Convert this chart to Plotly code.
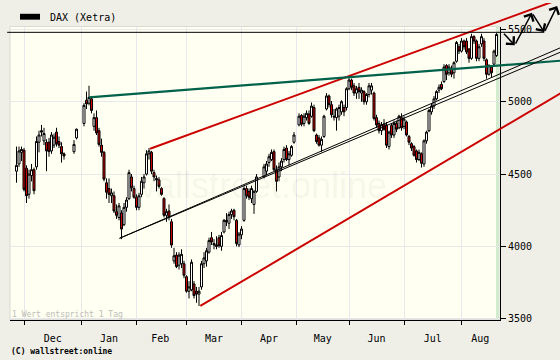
import plotly.graph_objects as go

# ---------------- data ----------------
trading_days = {
    "2008-11": [26, 27, 28],
    "2008-12": [1, 2, 3, 4, 5, 8, 9, 10, 11, 12, 15, 16, 17, 18, 19, 22, 23, 29, 30],
    "2009-01": [2, 5, 6, 7, 8, 9, 12, 13, 14, 15, 16, 19, 20, 21, 22, 23, 26, 27, 28, 29, 30],
    "2009-02": [2, 3, 4, 5, 6, 9, 10, 11, 12, 13, 16, 17, 18, 19, 20, 23, 24, 25, 26, 27],
    "2009-03": [2, 3, 4, 5, 6, 9, 10, 11, 12, 13, 16, 17, 18, 19, 20, 23, 24, 25, 26, 27, 30, 31],
    "2009-04": [1, 2, 3, 6, 7, 8, 9, 14, 15, 16, 17, 20, 21, 22, 23, 24, 27, 28, 29, 30],
    "2009-05": [4, 5, 6, 7, 8, 11, 12, 13, 14, 15, 18, 19, 20, 21, 22, 25, 26, 27, 28, 29],
    "2009-06": [1, 2, 3, 4, 5, 8, 9, 10, 11, 12, 15, 16, 17, 18, 19, 22, 23, 24, 25, 26, 29, 30],
    "2009-07": [1, 2, 3, 6, 7, 8, 9, 10, 13, 14, 15, 16, 17, 20, 21, 22, 23, 24, 27, 28, 29, 30, 31],
    "2009-08": [3, 4, 5, 6, 7, 10, 11, 12, 13, 14, 17, 18, 19, 20, 21],
}
dates = [f"{ym}-{d:02d}" for ym, days in trading_days.items() for d in days]

opens = [
    4520, 4570, 4650,
    4665, 4540, 4360, 4490, 4530, 4550, 4720, 4800, 4730, 4720, 4720, 4660, 4700, 4790, 4725, 4690, 4640, 4655, 4750,
    4850, 5010, 4990, 5020, 4830, 4890, 4800, 4700, 4650, 4440, 4400, 4350, 4350, 4240, 4200, 4230, 4150, 4270, 4330, 4480, 4400,
    4340, 4270, 4360, 4440, 4500, 4640, 4650, 4510, 4470, 4460, 4400, 4330, 4215, 4245, 4170, 3900, 3940, 3870, 3880, 3880,
    3790, 3690, 3700, 3740, 3690, 3670, 3720, 3880, 3900, 3960, 4060, 4020, 4010, 4060, 4000, 4100, 4180, 4160, 4220, 4250, 4180, 4010,
    4080, 4180, 4400, 4380, 4330, 4290, 4380, 4480, 4520, 4580, 4600, 4655, 4530, 4480, 4550, 4600, 4680, 4600, 4630, 4720,
    4840, 4905, 4850, 4890, 4915, 4900, 4960, 4770, 4750, 4700, 4760, 4950, 5040, 4980, 4900, 4890, 4900, 4930, 4960, 4960,
    5090, 5150, 5110, 5060, 5100, 5060, 5070, 5000, 5050, 5080, 5060, 4890, 4850, 4800, 4845, 4840, 4690, 4835, 4770, 4850, 4820, 4890,
    4830, 4860, 4760, 4710, 4690, 4660, 4600, 4640, 4570, 4730, 4800, 4930, 4970, 5020, 5080, 5120, 5140, 5250, 5200, 5230, 5200, 5280, 5380,
    5350, 5420, 5420, 5365, 5300, 5450, 5420, 5300, 5400, 5420, 5290, 5190, 5240, 5260, 5320,
]
highs = [
    4690, 4690, 4690,
    4680, 4560, 4530, 4570, 4545, 4760, 4800, 4840, 4820, 4740, 4750, 4790, 4780, 4820, 4760, 4720, 4650, 4735, 4815,
    4990, 5070, 5111, 5040, 4920, 4940, 4820, 4745, 4660, 4470, 4470, 4400, 4380, 4290, 4300, 4250, 4300, 4340, 4530, 4500, 4420,
    4360, 4370, 4480, 4500, 4665, 4680, 4660, 4530, 4490, 4480, 4410, 4340, 4260, 4290, 4190, 3990, 3960, 3960, 3980, 3900,
    3800, 3760, 3910, 3760, 3720, 3720, 3900, 3960, 3990, 4060, 4100, 4050, 4070, 4080, 4100, 4190, 4230, 4240, 4260, 4260, 4190, 4100,
    4140, 4420, 4420, 4400, 4420, 4390, 4500, 4570, 4590, 4640, 4670, 4670, 4560, 4580, 4610, 4690, 4700, 4660, 4700, 4790,
    4920, 4915, 4920, 4940, 4940, 4995, 4980, 4780, 4770, 4760, 4910, 5060, 5050, 5005, 4950, 4960, 4980, 5010, 4980, 5100,
    5175, 5160, 5130, 5110, 5130, 5100, 5080, 5060, 5130, 5130, 5070, 4910, 4870, 4860, 4880, 4860, 4800, 4850, 4870, 4870, 4910, 4920,
    4900, 4870, 4770, 4720, 4700, 4670, 4670, 4650, 4740, 4800, 4950, 4990, 5040, 5080, 5120, 5140, 5260, 5260, 5260, 5250, 5280, 5420, 5400,
    5440, 5430, 5440, 5370, 5470, 5460, 5430, 5400, 5470, 5440, 5300, 5260, 5250, 5360, 5475,
]
lows = [
    4440, 4550, 4590,
    4380, 4300, 4330, 4450, 4360, 4530, 4650, 4760, 4700, 4520, 4620, 4640, 4680, 4690, 4680, 4580, 4600, 4640, 4740,
    4830, 4950, 4975, 4920, 4800, 4770, 4690, 4620, 4450, 4330, 4300, 4300, 4230, 4190, 4180, 4050, 4140, 4240, 4320, 4380, 4330,
    4250, 4250, 4340, 4400, 4490, 4600, 4500, 4450, 4380, 4400, 4350, 4200, 4170, 4180, 3990, 3880, 3850, 3840, 3850, 3780,
    3680, 3640, 3690, 3640, 3610, 3588, 3700, 3850, 3860, 3950, 4010, 3980, 3980, 3990, 3970, 4090, 4140, 4120, 4190, 4180, 4000, 3995,
    4050, 4170, 4330, 4320, 4300, 4225, 4370, 4470, 4490, 4550, 4590, 4520, 4380, 4450, 4520, 4580, 4590, 4560, 4620, 4710,
    4830, 4830, 4830, 4870, 4840, 4890, 4790, 4710, 4690, 4655, 4750, 4940, 4960, 4890, 4870, 4800, 4870, 4910, 4900, 4940,
    5080, 5080, 5040, 5020, 5020, 5000, 4980, 4980, 5030, 5050, 4870, 4820, 4780, 4770, 4800, 4680, 4670, 4750, 4750, 4790, 4810, 4800,
    4810, 4760, 4700, 4660, 4620, 4580, 4590, 4545, 4550, 4710, 4790, 4910, 4950, 5010, 5060, 5080, 5130, 5150, 5180, 5170, 5160, 5270, 5330,
    5340, 5360, 5330, 5270, 5290, 5400, 5280, 5280, 5380, 5280, 5160, 5180, 5170, 5250, 5310,
]
closes = [
    4560, 4660, 4670,
    4394, 4350, 4500, 4530, 4385, 4725, 4770, 4790, 4780, 4660, 4655, 4770, 4755, 4710, 4700, 4640, 4625, 4705, 4810,
    4975, 4985, 5030, 4940, 4890, 4785, 4705, 4650, 4465, 4375, 4360, 4370, 4245, 4215, 4280, 4120, 4270, 4320, 4510, 4405, 4340,
    4270, 4350, 4450, 4480, 4640, 4660, 4520, 4480, 4460, 4415, 4360, 4215, 4240, 4200, 4010, 3935, 3860, 3940, 3945, 3800,
    3690, 3720, 3890, 3660, 3670, 3690, 3880, 3920, 3970, 4040, 4030, 4010, 4000, 4005, 4075, 4180, 4170, 4220, 4245, 4205, 4020, 4085,
    4120, 4400, 4350, 4340, 4400, 4380, 4480, 4550, 4570, 4620, 4650, 4530, 4450, 4550, 4590, 4670, 4600, 4640, 4690, 4770,
    4900, 4845, 4900, 4920, 4850, 4970, 4800, 4725, 4700, 4740, 4900, 5040, 4980, 4910, 4895, 4950, 4960, 5000, 4930, 5090,
    5150, 5100, 5060, 5090, 5070, 5080, 5000, 5050, 5110, 5110, 4885, 4840, 4800, 4840, 4810, 4700, 4790, 4770, 4850, 4810, 4900, 4820,
    4880, 4770, 4720, 4680, 4630, 4600, 4650, 4575, 4730, 4790, 4940, 4970, 5020, 5070, 5100, 5090, 5240, 5190, 5240, 5190, 5270, 5410, 5350,
    5420, 5380, 5345, 5300, 5450, 5420, 5300, 5380, 5450, 5300, 5190, 5250, 5200, 5350, 5465,
]

month_tick_dates = ["2008-12-01", "2009-01-01", "2009-02-02", "2009-03-02", "2009-04-01",
                    "2009-05-01", "2009-06-01", "2009-07-01", "2009-08-03"]
month_label_dates = ["2008-12-16 12:00", "2009-01-16", "2009-02-13 12:00", "2009-03-17", "2009-04-16",
                     "2009-05-15 12:00", "2009-06-16", "2009-07-16 12:00", "2009-08-12 12:00"]
month_names = ["Dec", "Jan", "Feb", "Mar", "Apr", "May", "Jun", "Jul", "Aug"]
price_ticks = [3500, 4000, 4500, 5000, 5500]
price_tick_text = ["3500", "4000", "4500", "5000", "5500"]

# drawn trend lines: (dates, values)
green_dates, green_values = ["2009-01-06", "2009-09-28"], [5030, 5286]
red_up_dates, red_up_values = ["2009-02-09", "2009-09-28"], [4675, 5722]
red_low_dates, red_low_values = ["2009-03-09", "2009-09-28"], [3588, 5075]
black_a_dates, black_a_values = ["2009-01-23", "2009-09-28"], [4056, 5386]
black_b_dates, black_b_values = ["2009-01-23", "2009-09-28"], [4056, 5355]
resist_dates, resist_values = ["2008-11-21 09:36", "2009-09-16 14:24"], [5480, 5480]
forecast_dates = ["2009-08-24 09:36", "2009-08-31 04:48", "2009-09-09 19:12",
                  "2009-09-16 14:24", "2009-09-23 19:12"]
forecast_values = [5480, 5391, 5615, 5480, 5662]
today_band = ["2009-08-20 19:00", "2009-08-22"]

# ---------------- layout geometry ----------------
W, H = 560, 360
PL, PR, PT, PB = 10, 500, 24, 323          # plot box in pixels
X_RANGE = ["2008-11-21 09:36", "2009-08-24 09:36"]
X2_RANGE = ["2008-11-17 09:36", "2009-09-25 09:36"]   # same scale, full figure width
Y_RANGE = [3493, 5520]
upp = (Y_RANGE[1] - Y_RANGE[0]) / (PB - PT)   # value units per pixel
Y2_RANGE = [Y_RANGE[0] - (H - PB) * upp, Y_RANGE[1] + PT * upp]

BREAKS = [dict(bounds=["sat", "mon"])]
GRID = "#e7e7ec"
MONO = "DejaVu Sans Mono"


def px(x):
    return x / W


def py(y):
    return 1 - y / H


fig = go.Figure()
fig.add_trace(go.Candlestick(
    x=dates, open=opens, high=highs, low=lows, close=closes,
    increasing=dict(fillcolor="#ffffff", line=dict(color="#000000", width=1)),
    decreasing=dict(fillcolor="#cc0000", line=dict(color="#000000", width=1)),
    whiskerwidth=0, showlegend=False, hoverinfo="skip", xaxis="x", yaxis="y",
))

for d, v, col, w in [
    (red_up_dates, red_up_values, "#cc0000", 2),
    (red_low_dates, red_low_values, "#cc0000", 2),
    (green_dates, green_values, "#00624a", 2.2),
    (black_a_dates, black_a_values, "#000000", 1),
    (black_b_dates, black_b_values, "#000000", 1),
    (resist_dates, resist_values, "#000000", 1),
]:
    fig.add_trace(go.Scatter(x=d, y=v, mode="lines", line=dict(color=col, width=w),
                             xaxis="x2", yaxis="y2", showlegend=False, hoverinfo="skip"))

shapes = [
    dict(type="rect", xref="x domain", yref="y domain", x0=0, x1=1, y0=0, y1=1,
         fillcolor="#fffff2", line=dict(color="#d9d9d2", width=1), layer="below"),
    dict(type="rect", xref="x", yref="y domain", x0=today_band[0], x1=today_band[1], y0=0, y1=1,
         fillcolor="#d3ebcd", line=dict(width=0), layer="below"),
    dict(type="rect", xref="paper", yref="paper", x0=px(20), x1=px(40), y0=py(17), y1=py(11),
         fillcolor="#000000", line=dict(width=0)),
]

annotations = [
    dict(text="wallstreet:online", xref="paper", yref="paper", x=px(257), y=py(186),
         showarrow=False, font=dict(family="Liberation Sans", size=36, color="rgba(170,170,150,0.10)")),
    dict(text="DAX (Xetra)", xref="paper", yref="paper", x=px(48), y=py(14.5), xanchor="left",
         yanchor="middle", showarrow=False, font=dict(family=MONO, size=10, color="#000000")),
    dict(text="1 Wert entspricht 1 Tag", xref="paper", yref="paper", x=px(10), y=py(318),
         xanchor="left", yanchor="middle", showarrow=False,
         font=dict(family=MONO, size=8, color="#bdbdb8")),
    dict(text="(C) wallstreet:online", xref="paper", yref="paper", x=px(9), y=py(354.5),
         xanchor="left", yanchor="middle", showarrow=False,
         font=dict(family=MONO, size=8, color="#000000", weight="bold")),
]
for i in range(1, len(forecast_dates)):
    annotations.append(dict(
        text="", xref="x2", yref="y2", axref="x2", ayref="y2",
        x=forecast_dates[i], y=forecast_values[i],
        ax=forecast_dates[i - 1], ay=forecast_values[i - 1],
        showarrow=True, arrowhead=4, arrowsize=1.4, arrowwidth=1.5, arrowcolor="#000000",
    ))

fig.update_layout(
    width=W, height=H, margin=dict(l=0, r=0, t=0, b=0, pad=0),
    paper_bgcolor="#efefe8", plot_bgcolor="rgba(0,0,0,0)",
    showlegend=False, hovermode=False, boxgap=0.1, boxgroupgap=0.1,
    shapes=shapes, annotations=annotations,
    xaxis=dict(domain=[px(PL), px(PR)], anchor="y", type="date", range=X_RANGE,
               rangebreaks=BREAKS, rangeslider=dict(visible=False),
               tickvals=month_label_dates, ticktext=month_names,
               ticks="outside", ticklen=9, tickcolor="rgba(0,0,0,0)",
               tickfont=dict(family=MONO, size=10, color="#000000"),
               minor=dict(tickvals=month_tick_dates, ticks="outside", ticklen=4,
                          tickcolor="#000000", tickwidth=1,
                          showgrid=True, gridcolor=GRID, gridwidth=1),
               showline=True, linecolor="#000000", linewidth=1,
               showgrid=False, zeroline=False, fixedrange=True),
    yaxis=dict(domain=[py(PB), py(PT)], anchor="x", side="right", range=Y_RANGE,
               tickvals=price_ticks, ticktext=price_tick_text,
               ticks="outside", ticklen=5, tickcolor="#000000", tickwidth=1,
               showline=True, linecolor="#000000", linewidth=1,
               showgrid=True, gridcolor=GRID, gridwidth=1, zeroline=False, fixedrange=True,
               tickfont=dict(family=MONO, size=10, color="#000000")),
    xaxis2=dict(domain=[0, 1], anchor="y2", type="date", range=X2_RANGE,
                rangebreaks=BREAKS, visible=False, fixedrange=True),
    yaxis2=dict(domain=[0, 1], anchor="x2", range=Y2_RANGE, visible=False, fixedrange=True),
)

fig.write_html("out.html", config={"displayModeBar": False},
               post_script="document.body.style.margin='0px';")
